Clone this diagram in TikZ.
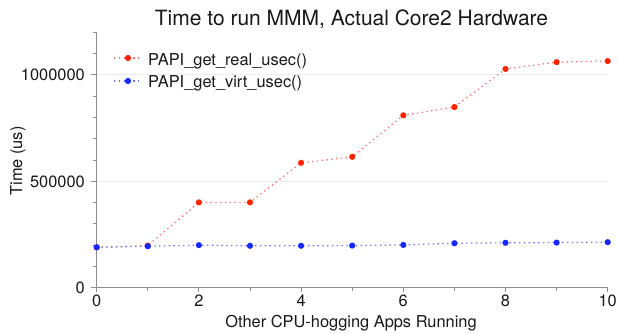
\documentclass[tikz,border=0pt]{standalone}
\usepackage{fontspec}
\setmainfont{TeX Gyre Heros}
\definecolor{axisgray}{RGB}{140,140,140}
\definecolor{gridgray}{RGB}{238,238,238}
\definecolor{textgray}{RGB}{25,25,25}
\definecolor{reddot}{RGB}{255,35,0}
\definecolor{redl}{RGB}{255,110,110}
\definecolor{bluedot}{RGB}{20,40,255}
\definecolor{bluel}{RGB}{110,110,255}
\begin{document}
\begin{tikzpicture}[x=1pt,y=1pt,
  axisline/.style={draw=axisgray, line width=1.4pt},
  gridline/.style={draw=gridgray, line width=1pt},
  tickline/.style={draw=axisgray, line width=1pt},
  lbl/.style={font=\fontsize{16.4}{19}\selectfont, inner sep=0pt, text=textgray},
  ttl/.style={font=\fontsize{21}{25}\selectfont, inner sep=0pt, text=textgray},
  redline/.style={draw=redl, line width=1.2pt, dash pattern=on 1.4pt off 3.4pt},
  blueline/.style={draw=bluel, line width=1.2pt, dash pattern=on 1.4pt off 3.4pt},
  reddotstyle/.style={fill=reddot},
  bluedotstyle/.style={fill=bluedot}
]
\useasboundingbox (0,0) rectangle (618,333);
\fill[white] (0,0) rectangle (618,333);
\node[ttl, anchor=base] (title) at (351.5,308) {Time to run MMM, Actual Core2 Hardware};
\node[lbl, anchor=base] (xlabel) at (351,5.5) {Other CPU-hogging Apps Running};
\node[lbl, anchor=base, rotate=90] (ylabel) at (22,172) {Time (us)};
\begin{scope}[shift={(96.7,45.3)}, x=51.1pt, y=0.2128pt]
  \coordinate (o) at (0,0);
  \coordinate (ytop) at (0,1200);
  \coordinate (xend) at (10,0);
  \coordinate (g5a) at (0,500);  \coordinate (g5b) at (10,500);
  \coordinate (g10a) at (0,1000); \coordinate (g10b) at (10,1000);
  \draw[gridline] (g5a) -- (g5b);
  \draw[gridline] (g10a) -- (g10b);
  \foreach \v in {100,200,300,400,600,700,800,900,1100,1200}
    \draw[tickline] (0,\v) -- ++(-3.5pt,0);
  \foreach \v in {0,500,1000}
    \draw[tickline] (0,\v) -- ++(-6pt,0);
  \foreach \v in {1,3,...,9}
    \draw[tickline] (\v,0) -- ++(0,-3pt);
  \foreach \v in {0,2,...,10}
    \draw[tickline] (\v,0) -- ++(0,-4.5pt);
  \draw[axisline] (ytop) -- (o) -- (xend);
  \node[lbl, anchor=base east] (y0) at ([xshift=-11.7pt, yshift=-5.8pt]0,0) {0};
  \node[lbl, anchor=base east] (y5) at ([xshift=-11.7pt, yshift=-5.8pt]0,500) {500000};
  \node[lbl, anchor=base east] (y10) at ([xshift=-11.7pt, yshift=-5.8pt]0,1000) {1000000};
  \foreach \v in {0,2,...,10}
    \node[lbl, anchor=base] (x\v) at ([yshift=-19pt]\v,0) {\v};
  \foreach \i/\r/\b in {0/190/190, 1/198/195, 2/401/200, 3/401/197, 4/587/197,
      5/615/198, 6/810/201, 7/849/209, 8/1028/211, 9/1060/212, 10/1065/214} {
    \coordinate (r\i) at (\i,\r);
    \coordinate (b\i) at (\i,\b);
  }
  \draw[redline] (r0) -- (r1) -- (r2) -- (r3) -- (r4) -- (r5) -- (r6) -- (r7) -- (r8) -- (r9) -- (r10);
  \foreach \i in {0,...,10} \fill[reddotstyle] (r\i) circle (3.1pt);
  \draw[blueline] (b0) -- (b1) -- (b2) -- (b3) -- (b4) -- (b5) -- (b6) -- (b7) -- (b8) -- (b9) -- (b10);
  \foreach \i in {0,...,10} \fill[bluedotstyle] (b\i) circle (3.1pt);
\end{scope}
% legend
\coordinate (lra) at (114,275); \coordinate (lrb) at (141,275); \coordinate (lrm) at (128,275);
\coordinate (lba) at (114,252); \coordinate (lbb) at (141,252); \coordinate (lbm) at (128,252);
\draw[redline] (lra) -- (lrb);
\fill[reddotstyle] (lrm) circle (3.1pt);
\draw[blueline] (lba) -- (lbb);
\fill[bluedotstyle] (lbm) circle (3.1pt);
\node[lbl, anchor=base west] (legr) at (148,268) {PAPI\_get\_real\_usec()};
\node[lbl, anchor=base west] (legb) at (148,246) {PAPI\_get\_virt\_usec()};
\end{tikzpicture}
\end{document}
